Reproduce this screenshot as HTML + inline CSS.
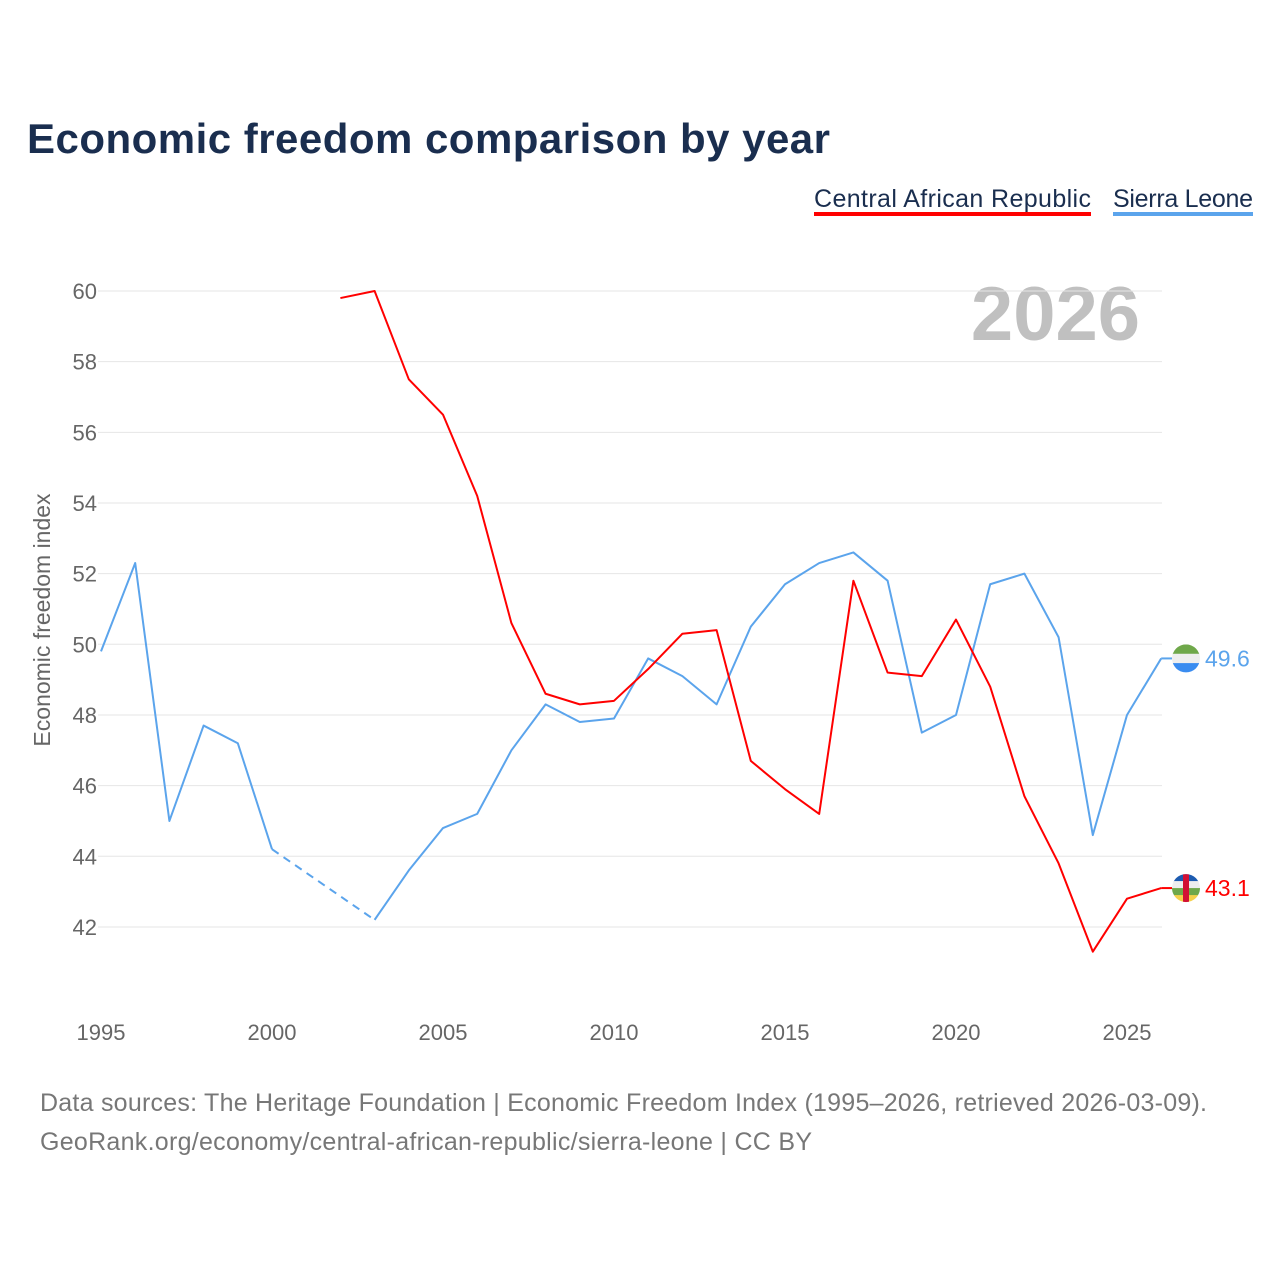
<!DOCTYPE html>
<html><head><meta charset="utf-8"><style>
body{margin:0;background:#fff;font-family:"Liberation Sans",sans-serif}
</style></head><body>
<svg id="chart" width="1280" height="1280" xmlns="http://www.w3.org/2000/svg" font-family="Liberation Sans, sans-serif">
<text x="27" y="153" font-size="42" font-weight="bold" fill="#1a2e4f" textLength="803">Economic freedom comparison by year</text>
<g>
<text x="1091" y="207" font-size="25" fill="#1a2e4f" text-anchor="end" textLength="277">Central African Republic</text>
<rect x="814" y="212" width="277" height="4" fill="#ff0000"/>
<text x="1253" y="207" font-size="25" fill="#1a2e4f" text-anchor="end" textLength="140">Sierra Leone</text>
<rect x="1113" y="212" width="140" height="4" fill="#5ba4ec"/>
</g>
<text x="1140" y="340" font-size="76" font-weight="bold" fill="#c0c0c0" text-anchor="end">2026</text>
<text transform="translate(50,620) rotate(-90)" font-size="23" fill="#666" text-anchor="middle">Economic freedom index</text>
<g id="grid"></g><g id="series"></g>
<text x="40" y="1111" font-size="25" fill="#777" textLength="1167">Data sources: The Heritage Foundation | Economic Freedom Index (1995–2026, retrieved 2026-03-09).</text>
<text x="40" y="1150" font-size="25" fill="#777" textLength="772">GeoRank.org/economy/central-african-republic/sierra-leone | CC BY</text>
</svg>
<script>
const years=[1995,1996,1997,1998,1999,2000,2001,2002,2003,2004,2005,2006,2007,2008,2009,2010,2011,2012,2013,2014,2015,2016,2017,2018,2019,2020,2021,2022,2023,2024,2025,2026];
const sierraLeone=[49.8,52.3,45.0,47.7,47.2,44.2,null,null,42.2,43.6,44.8,45.2,47.0,48.3,47.8,47.9,49.6,49.1,48.3,50.5,51.7,52.3,52.6,51.8,47.5,48.0,51.7,52.0,50.2,44.6,48.0,49.6];
const car=[null,null,null,null,null,null,null,59.8,60.0,57.5,56.5,54.2,50.6,48.6,48.3,48.4,49.3,50.3,50.4,46.7,45.9,45.2,51.8,49.2,49.1,50.7,48.8,45.7,43.8,41.3,42.8,43.1];
const yTicks=[42,44,46,48,50,52,54,56,58,60];
const xTicks=[1995,2000,2005,2010,2015,2020,2025];
const NS='http://www.w3.org/2000/svg';
const X=y=>101+(y-1995)*34.2, Y=v=>291+(60-v)*35.33;
function mk(t,a,p){const e=document.createElementNS(NS,t);for(const k in a)e.setAttribute(k,a[k]);p.appendChild(e);return e;}
const grid=document.getElementById('grid'), ser=document.getElementById('series');
yTicks.forEach(v=>{
 const l=mk('line',{x1:98,x2:1162,y1:Y(v),y2:Y(v),stroke:'#e6e6e6','stroke-width':1},grid);
 
 
 const t=mk('text',{x:97,y:Y(v)+8,'font-size':22,fill:'#666','text-anchor':'end'},grid);t.textContent=v;
 
 
});
xTicks.forEach(y=>{
 const t=mk('text',{x:X(y),y:1040,'font-size':22,fill:'#666','text-anchor':'middle'},grid);t.textContent=y;
 
 
});
function draw(vals,color,name){
 let seg=[];
 const segs=[];
 vals.forEach((v,i)=>{if(v==null){if(seg.length)segs.push(seg);seg=[];}else seg.push([X(years[i]),Y(v),i]);});
 if(seg.length)segs.push(seg);
 segs.forEach((s,k)=>{
  if(k>0){const a=segs[k-1][segs[k-1].length-1],b=s[0];
   const d=mk('line',{x1:a[0],y1:a[1],x2:b[0],y2:b[1],stroke:color,'stroke-width':2,'stroke-dasharray':'8,6'},ser);
   
   }
  const p=mk('polyline',{points:s.map(q=>q[0]+','+q[1]).join(' '),fill:'none',stroke:color,'stroke-width':2,'stroke-linejoin':'round'},ser);
  
  
 });
 const last=vals[vals.length-1],ly=Y(last),lx=X(years[years.length-1]);
 mk('line',{x1:lx,y1:ly,x2:1172,y2:ly,stroke:color,'stroke-width':2},ser);
 const t=mk('text',{x:1205,y:ly+8,'font-size':23,fill:color},ser);t.textContent=last.toFixed(1);
 
 
 return ly;
}
const sy=draw(sierraLeone,'#5ba4ec','sierra-leone');
const cy=draw(car,'#ff0000','car');
const defs=mk('defs',{},ser);
function flag(cyv,stripes,id,extra){
 const g=mk('g',{},ser);
 
 
 const cp=mk('clipPath',{id:id+'-clip'},defs);mk('circle',{cx:1186,cy:cyv,r:14},cp);
 const inner=mk('g',{'clip-path':'url(#'+id+'-clip)'},g);
 const h=28/stripes.length;
 stripes.forEach((c,i)=>mk('rect',{x:1172,y:cyv-14+i*h,width:28,height:h+0.5,fill:c},inner));
 if(extra)mk('rect',{x:1183,y:cyv-14,width:6,height:28,fill:'#d21034'},inner);
}
flag(sy,['#6fa84a','#eeeeee','#3a8cf0'],'sierra-leone-flag',false);
flag(cy,['#1d5bb0','#eeeeee','#6fa84a','#f5d14a'],'car-flag',true);
</script>
</body></html>
